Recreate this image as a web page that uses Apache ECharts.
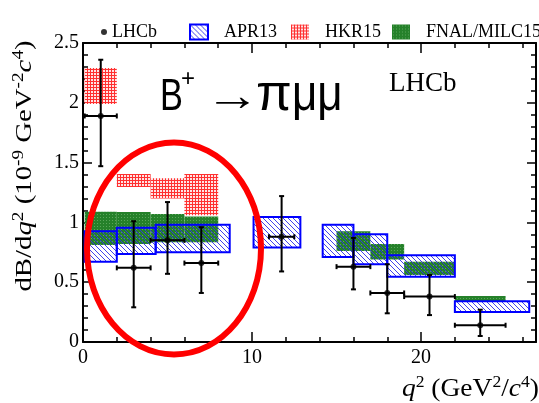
<!DOCTYPE html>
<html>
<head>
<meta charset="utf-8">
<script src="https://cdn.jsdelivr.net/npm/echarts@6/dist/echarts.min.js"></script>
<style>
  html, body { margin: 0; padding: 0; background: #fff; }
  #chart { width: 539px; height: 403px; }
</style>
</head>
<body>
<div id="chart"></div>
<script>
// LHCb measurement: q2 bin edges, bin centres, central values and error band
const lhcbBinLo = [0.1, 2, 4, 6, 11, 15, 17, 19, 22];
const lhcbBinHi = [2, 4, 6, 8, 12.5, 17, 19, 22, 25];
const lhcbX     = [1.05, 3, 5, 7, 11.75, 16, 18, 20.5, 23.5];
const lhcbY     = [1.89, 0.62, 0.85, 0.66, 0.88, 0.63, 0.41, 0.38, 0.14];
const lhcbYLow  = [1.47, 0.29, 0.57, 0.41, 0.59, 0.44, 0.24, 0.225, 0.05];
const lhcbYHigh = [2.36, 1.01, 1.17, 0.96, 1.22, 0.87, 0.65, 0.56, 0.27];

// APR13 prediction bands
const aprBinLo = [0.1, 2, 4.3, 10.09, 14.18, 16, 18, 22];
const aprBinHi = [2, 4.3, 8.68, 12.86, 16, 18, 22, 26.4];
const aprLow   = [0.67, 0.735, 0.75, 0.79, 0.71, 0.65, 0.545, 0.25];
const aprHigh  = [0.925, 0.955, 0.98, 1.045, 0.98, 0.90, 0.725, 0.34];

// HKR15 prediction bands
const hkrBinLo = [0.1, 2, 4, 6];
const hkrBinHi = [2, 4, 6, 8];
const hkrLow   = [1.99, 1.295, 1.20, 1.06];
const hkrHigh  = [2.29, 1.405, 1.37, 1.405];

// FNAL/MILC15 prediction bands
const fnalBinLo = [0.1, 2, 4, 6, 15, 17, 19, 22];
const fnalBinHi = [2, 4, 6, 8, 17, 19, 22, 25];
const fnalLow   = [0.81, 0.82, 0.835, 0.835, 0.76, 0.69, 0.56, 0.335];
const fnalHigh  = [1.09, 1.086, 1.07, 1.05, 0.925, 0.82, 0.67, 0.385];

// axis tick values
const xTicks = [0, 10, 20];
const yTicks = [0, 0.5, 1, 1.5, 2, 2.5];

const SERIF = "'Liberation Serif', 'Times New Roman', 'DejaVu Serif', serif";
const SANS = "'Liberation Sans', Arial, 'DejaVu Sans', sans-serif";

// --- fill patterns ---
function hatchTile() {
  const c = document.createElement('canvas');
  c.width = 5; c.height = 5;
  const g = c.getContext('2d');
  g.strokeStyle = 'rgba(45,45,235,0.9)';
  g.lineWidth = 1;
  g.beginPath();
  g.moveTo(-1, -1); g.lineTo(6, 6);
  g.moveTo(-1, 4); g.lineTo(1, 6);
  g.moveTo(4, -1); g.lineTo(6, 1);
  g.stroke();
  return c;
}
function dotTile(base, hole) {
  const c = document.createElement('canvas');
  c.width = 3; c.height = 3;
  const g = c.getContext('2d');
  g.fillStyle = base; g.fillRect(0, 0, 3, 3);
  g.fillStyle = hole; g.fillRect(1, 1, 2, 2);
  return c;
}
function speckTile(base, speck) {
  const c = document.createElement('canvas');
  c.width = 3; c.height = 3;
  const g = c.getContext('2d');
  g.fillStyle = base; g.fillRect(0, 0, 3, 3);
  g.fillStyle = speck; g.fillRect(1, 1, 1, 1);
  return c;
}
const aprFill  = { image: hatchTile(), repeat: 'repeat' };
const hkrFill  = { image: dotTile('#ff3030', '#ffe4e4'), repeat: 'repeat' };
const fnalFill = { image: speckTile('#25812a', '#5aa65a'), repeat: 'repeat' };

function bands(lo, hi, low, high) {
  return lo.map((v, i) => [v, hi[i], low[i], high[i]]);
}

function renderBox(params, api) {
  const a = api.coord([api.value(0), api.value(3)]);
  const b = api.coord([api.value(1), api.value(2)]);
  return {
    type: 'rect',
    shape: { x: a[0], y: a[1], width: b[0] - a[0], height: b[1] - a[1] },
    style: api.style()
  };
}

function renderErr(params, api) {
  const cap = 2.5;
  const l = api.coord([api.value(0), api.value(3)]);
  const r = api.coord([api.value(1), api.value(3)]);
  const c = api.coord([api.value(2), api.value(3)]);
  const lo = api.coord([api.value(2), api.value(4)]);
  const hi = api.coord([api.value(2), api.value(5)]);
  const st = { stroke: '#000', lineWidth: 2 };
  const line = (x1, y1, x2, y2) => ({ type: 'line', shape: { x1, y1, x2, y2 }, style: st });
  return {
    type: 'group',
    children: [
      line(l[0], l[1], r[0], r[1]),
      line(c[0], lo[1], c[0], hi[1]),
      line(l[0], l[1] - cap, l[0], l[1] + cap),
      line(r[0], r[1] - cap, r[0], r[1] + cap),
      line(c[0] - cap, lo[1], c[0] + cap, lo[1]),
      line(c[0] - cap, hi[1], c[0] + cap, hi[1])
    ]
  };
}

const errData = lhcbX.map((x, i) => [lhcbBinLo[i], lhcbBinHi[i], x, lhcbY[i], lhcbYLow[i], lhcbYHigh[i]]);
const pointData = lhcbX.map((x, i) => [x, lhcbY[i]]);

const axisLineStyle = { color: '#000', width: 2 };
function xAxisDef(position, showLabels) {
  return {
    type: 'value', position, min: 0, max: 26.8, interval: 10,
    axisLine: { show: true, onZero: false, lineStyle: axisLineStyle },
    axisTick: { show: true, inside: true, length: 10, lineStyle: { color: '#000', width: 1.5 } },
    minorTick: { show: true, splitNumber: 5, length: 5, lineStyle: { color: '#000', width: 1.5 } },
    splitLine: { show: false },
    minorSplitLine: { show: false },
    axisLabel: {
      show: showLabels, margin: 6, color: '#000', fontSize: 20, fontFamily: SERIF,
      formatter: v => (xTicks.indexOf(v) >= 0 ? String(v) : '')
    }
  };
}
function yAxisDef(position, showLabels) {
  return {
    type: 'value', position, min: 0, max: 2.5, interval: 0.5,
    axisLine: { show: true, onZero: false, lineStyle: axisLineStyle },
    axisTick: { show: true, inside: true, length: 9, lineStyle: { color: '#000', width: 1.5 } },
    minorTick: { show: true, splitNumber: 5, length: 5, lineStyle: { color: '#000', width: 1.5 } },
    splitLine: { show: false },
    minorSplitLine: { show: false },
    axisLabel: {
      show: showLabels, margin: 4, color: '#000', fontSize: 20, fontFamily: SERIF,
      formatter: v => (yTicks.indexOf(v) >= 0 ? String(v) : '')
    }
  };
}

const legendText = { color: '#000', fontSize: 18, fontFamily: SERIF, lineHeight: 15, overflow: 'none' };
function legendAt(name, left, w, h, itemStyle, pad) {
  return {
    data: [{ name, itemStyle }],
    left, top: 18, itemWidth: w, itemHeight: h,
    icon: name === 'LHCb' ? 'circle' : 'rect',
    selectedMode: false,
    textStyle: Object.assign({ padding: [0, 0, 0, pad] }, legendText)
  };
}

// rich-text styles for axis titles with italic variables and superscripts
function titleRich(size, supSize, lh) {
  return {
    n: { fontSize: size, fontFamily: SERIF, lineHeight: lh, fill: '#000' },
    i: { fontSize: size, fontFamily: SERIF, fontStyle: 'italic', lineHeight: lh, fill: '#000' },
    s: { fontSize: supSize, fontFamily: SERIF, lineHeight: supSize, verticalAlign: 'top', fill: '#000' }
  };
}

const chart = echarts.init(document.getElementById('chart'), null, { renderer: 'canvas' });
chart.setOption({
  animation: false,
  backgroundColor: '#fff',
  grid: { left: 83, top: 43, width: 453, height: 299, containLabel: false },
  xAxis: [xAxisDef('bottom', true), xAxisDef('top', false)],
  yAxis: [yAxisDef('left', true), yAxisDef('right', false)],
  legend: [
    legendAt('LHCb', 96, 6, 6, { color: '#000' }, 0),
    legendAt('APR13', 184, 18, 15, { color: aprFill, borderColor: '#0000ff', borderWidth: 2 }, 11),
    legendAt('HKR15', 286, 18, 15, { color: hkrFill }, 11),
    legendAt('FNAL/MILC15', 387, 18, 15, { color: fnalFill }, 11)
  ],
  series: [
    {
      name: 'HKR15', type: 'custom', renderItem: renderBox, z: 1,
      itemStyle: { color: hkrFill },
      encode: { x: [0, 1], y: [2, 3] },
      data: bands(hkrBinLo, hkrBinHi, hkrLow, hkrHigh)
    },
    {
      name: 'FNAL/MILC15', type: 'custom', renderItem: renderBox, z: 2,
      itemStyle: { color: fnalFill },
      encode: { x: [0, 1], y: [2, 3] },
      data: bands(fnalBinLo, fnalBinHi, fnalLow, fnalHigh)
    },
    {
      name: 'APR13', type: 'custom', renderItem: renderBox, z: 3,
      itemStyle: { color: aprFill, borderColor: '#0000ff', borderWidth: 2 },
      encode: { x: [0, 1], y: [2, 3] },
      data: bands(aprBinLo, aprBinHi, aprLow, aprHigh)
    },
    {
      name: 'LHCb errors', type: 'custom', renderItem: renderErr, z: 4,
      encode: { x: [0, 1, 2], y: [3, 4, 5] },
      data: errData
    },
    {
      name: 'LHCb', type: 'scatter', z: 5, symbol: 'circle', symbolSize: 6,
      itemStyle: { color: '#000' },
      data: pointData
    }
  ],
  graphic: [
    {
      type: 'text', x: 25, y: 166, rotation: Math.PI / 2, scaleX: 1.2, z: 10,
      style: {
        text: '{n|dB/d}{i|q}{s|2}{n| (10}{s|-9}{n| GeV}{s|-2}{i|c}{s|4}{n|)}',
        align: 'center', verticalAlign: 'middle',
        rich: titleRich(24, 16, 28)
      }
    },
    {
      type: 'text', x: 539, y: 389, scaleX: 1.1, z: 10,
      style: {
        text: '{i|q}{s|2}{n| (GeV}{s|2}{n|/}{i|c}{s|4}{n|)}',
        align: 'right', verticalAlign: 'middle',
        rich: titleRich(25, 16, 28)
      }
    },
    // decay label
    {
      type: 'text', x: 160, y: 98, scaleX: 0.78, z: 10,
      style: { text: 'B', fontSize: 44, fontFamily: SANS, fill: '#000', align: 'left', verticalAlign: 'middle' }
    },
    {
      type: 'text', x: 181, y: 79, z: 10,
      style: { text: '+', fontSize: 24, fontFamily: SANS, fill: '#000', align: 'left', verticalAlign: 'middle' }
    },
    {
      type: 'text', x: 205, y: 98, scaleX: 1.25, z: 10,
      style: { text: '→', fontSize: 44, fontFamily: SANS, fill: '#000', align: 'left', verticalAlign: 'middle' }
    },
    {
      type: 'text', x: 256, y: 95.5, scaleX: 1.18, scaleY: 1.18, z: 10,
      style: { text: 'π', fontSize: 44, fontFamily: SANS, fill: '#000', align: 'left', verticalAlign: 'middle' }
    },
    {
      type: 'text', x: 292, y: 95.5, scaleY: 1.18, z: 10,
      style: { text: 'μμ', fontSize: 44, fontFamily: SANS, fill: '#000', align: 'left', verticalAlign: 'middle' }
    },
    {
      type: 'text', x: 389, y: 84, z: 10,
      style: { text: 'LHCb', fontSize: 27, fontFamily: SERIF, fill: '#000', align: 'left', verticalAlign: 'middle' }
    },
    {
      type: 'ellipse', z: 20,
      shape: { cx: 174, cy: 248.5, rx: 87, ry: 106 },
      style: { fill: 'none', stroke: '#ff0000', lineWidth: 6 }
    }
  ]
});
</script>
</body>
</html>
